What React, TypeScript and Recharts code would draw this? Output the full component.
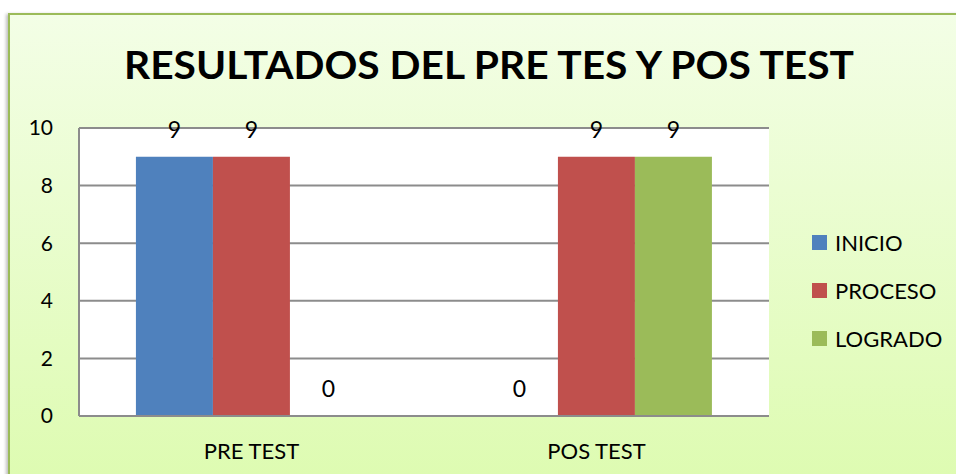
import { BarChart, Bar, XAxis, YAxis, CartesianGrid, Legend, LabelList } from "recharts";

const CATEGORIES = ["PRE TEST", "POS TEST"];
const INICIO = [9, 0];
const PROCESO = [9, 9];
const LOGRADO = [0, 9];
const Y_TICKS = [0, 2, 4, 6, 8, 10];

const SERIES = [
  { key: "INICIO", values: INICIO, color: "#4f81bd" },
  { key: "PROCESO", values: PROCESO, color: "#c0504d" },
  { key: "LOGRADO", values: LOGRADO, color: "#9bbb59" },
];

const data = CATEGORIES.map((name, i) => {
  const row: Record<string, string | number> = { name };
  SERIES.forEach((s) => (row[s.key] = s.values[i]));
  return row;
});

const FONT = "Lato, 'Open Sans', sans-serif";
const GRID = "#8c8c8c";

// legend keeps the series order (recharts sorts it by name otherwise)
const renderLegend = () => (
  <div style={{ fontFamily: FONT }}>
    {SERIES.map((s) => (
      <div key={s.key} style={{ display: "flex", alignItems: "center", height: 48 }}>
        <span style={{ width: 15, height: 15, background: s.color, marginRight: 8 }} />
        <span style={{ fontSize: 22, color: "#000" }}>{s.key}</span>
      </div>
    ))}
  </div>
);

const renderValue = (p: any) => (
  <text
    x={Number(p.x) + Number(p.width) / 2}
    y={Number(p.y) - 19}
    textAnchor="middle"
    style={{ fontSize: 23, fill: "#000", fontFamily: FONT }}
  >
    {String(p.value)}
  </text>
);

export default function App() {
  return (
    <div
      style={{
        position: "fixed",
        left: 0,
        top: 0,
        width: 956,
        height: 474,
        overflow: "hidden",
        background: "#fff",
      }}
    >
      <div
        style={{
          position: "absolute",
          left: 8,
          top: 13,
          width: 1000,
          height: 520,
          border: "2px solid #9bbb59",
          background: "linear-gradient(to bottom, #f3fee6 0%, #dbfbab 100%)",
          boxShadow: "-2px 1px 3px rgba(0,0,0,0.25)",
        }}
      />
      <svg width={956} height={474} style={{ position: "absolute", left: 0, top: 0 }}>
        <text
          x={489}
          y={79}
          textAnchor="middle"
          textLength={730}
          lengthAdjust="spacingAndGlyphs"
          style={{ fontFamily: FONT, fontWeight: 700, fontSize: 38, fill: "#000" }}
        >
          RESULTADOS DEL PRE TES Y POS TEST
        </text>
      </svg>
      <div style={{ position: "absolute", left: 0, top: 0 }}>
        <BarChart
          width={956}
          height={474}
          data={data}
          margin={{ top: 128, right: 187, left: 0, bottom: 18 }}
          barCategoryGap="16.5%"
          barGap={0}
        >
          <CartesianGrid vertical={false} stroke={GRID} strokeWidth={2} fill="#fff" />
          <XAxis
            dataKey="name"
            height={40}
            axisLine={{ stroke: GRID, strokeWidth: 2 }}
            tickLine={false}
            tickSize={0}
            tickMargin={27}
            tick={{ fontSize: 22, fill: "#000", fontFamily: FONT }}
          />
          <YAxis
            width={79}
            domain={[0, 10]}
            ticks={Y_TICKS}
            axisLine={{ stroke: GRID, strokeWidth: 2 }}
            tickLine={false}
            tickSize={0}
            tickMargin={26}
            tick={{ fontSize: 21, fill: "#000", fontFamily: FONT }}
          />
          <Legend
            layout="vertical"
            align="center"
            verticalAlign="middle"
            content={renderLegend}
            wrapperStyle={{ left: 812, top: 218, width: 140 }}
          />
          {SERIES.map((s) => (
            <Bar
              key={s.key}
              dataKey={s.key}
              fill={s.color}
              minPointSize={0.01}
              isAnimationActive={false}
            >
              <LabelList dataKey={s.key} content={renderValue} />
            </Bar>
          ))}
        </BarChart>
      </div>
    </div>
  );
}
